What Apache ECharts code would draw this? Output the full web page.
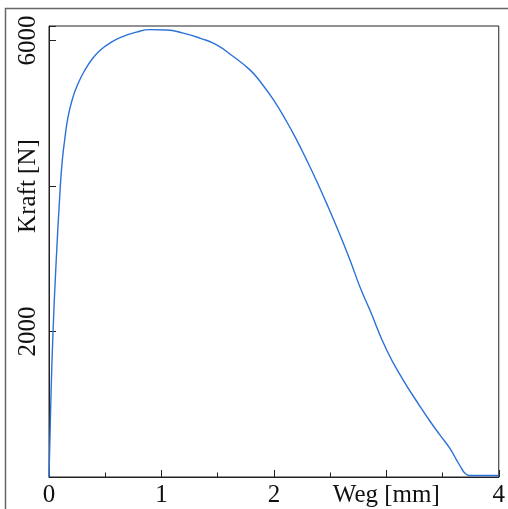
<!DOCTYPE html>
<html>
<head>
<meta charset="utf-8">
<script src="https://cdn.jsdelivr.net/npm/echarts@6/dist/echarts.min.js"></script>
<style>
  html, body { margin: 0; padding: 0; background: #fff; }
  #chart { width: 508px; height: 509px; }
</style>
</head>
<body>
<div id="chart"></div>
<script>
// Kraft-Weg-Kurve
var chart = echarts.init(document.getElementById('chart'), null, {renderer: 'canvas'});

var weg = [0, 0.008, 0.020, 0.036, 0.060, 0.100, 0.118, 0.139, 0.169, 0.213, 0.258, 0.317,
    0.391, 0.465, 0.554, 0.643, 0.776, 0.898, 1.046, 1.194, 1.342, 1.491, 1.639, 1.787,
    1.876, 1.994, 2.113, 2.202, 2.291, 2.380, 2.468, 2.557, 2.676, 2.764, 2.853, 3.002,
    3.149, 3.298, 3.387, 3.476, 3.564, 3.624, 3.668, 3.698, 3.742, 4.0];
var kraft = [0, 500, 1244, 2000, 2848, 3980, 4350, 4626, 4947, 5222, 5405, 5588,
    5760, 5880, 5978, 6047, 6116, 6150, 6145, 6102, 6033, 5941, 5780, 5597,
    5440, 5190, 4887, 4635, 4360, 4070, 3765, 3443, 2986, 2619, 2298, 1749,
    1336, 975, 770, 580, 397, 236, 122, 54, 21, 20];

var xLabels = {0: '0', 1: '1', 2: '2', 3: 'Weg [mm]', 4: '4'};
var yLabels = {2000: '2000', 4000: 'Kraft [N]', 6000: '6000'};

var data = [];
for (var i = 0; i < weg.length; i++) {
    data.push([weg[i], kraft[i]]);
}

var serif = '"Liberation Serif", "DejaVu Serif", serif';

option = {
    animation: false,
    backgroundColor: '#fff',
    graphic: [
        {
            type: 'rect',
            shape: {x: 5.5, y: 8.5, width: 700, height: 700},
            style: {fill: 'none', stroke: '#666', lineWidth: 1.5},
            silent: true
        }
    ],
    grid: {
        left: 49, top: 26, right: 9, bottom: 32,
        show: true,
        borderColor: '#222',
        borderWidth: 1
    },
    xAxis: {
        type: 'value',
        min: 0,
        max: 4,
        interval: 1,
        axisLine: {lineStyle: {color: '#222', width: 1}},
        axisTick: {inside: true, length: 7, lineStyle: {color: '#222'}},
        minorTick: {show: true, splitNumber: 2, length: 4.5, lineStyle: {color: '#222'}},
        splitLine: {show: false},
        axisLabel: {
            margin: 6,
            color: '#111',
            fontFamily: serif,
            fontSize: 25,
            formatter: function (v) {
                return xLabels[v] !== undefined ? xLabels[v] : '';
            }
        }
    },
    yAxis: {
        type: 'value',
        min: 0,
        max: 6200,
        interval: 2000,
        axisLine: {show: true, lineStyle: {color: '#222', width: 1}},
        axisTick: {show: true, inside: true, length: 7, lineStyle: {color: '#222'}},
        splitLine: {show: false},
        axisLabel: {
            rotate: 90,
            margin: 8,
            color: '#111',
            fontFamily: serif,
            fontSize: 25,
            formatter: function (v) {
                return yLabels[v] !== undefined ? yLabels[v] : '';
            }
        }
    },
    series: [
        {
            type: 'line',
            data: data,
            showSymbol: false,
            smooth: 0.5,
            lineStyle: {color: '#2a72d8', width: 1.4}
        }
    ]
};
chart.setOption(option);
</script>
</body>
</html>
